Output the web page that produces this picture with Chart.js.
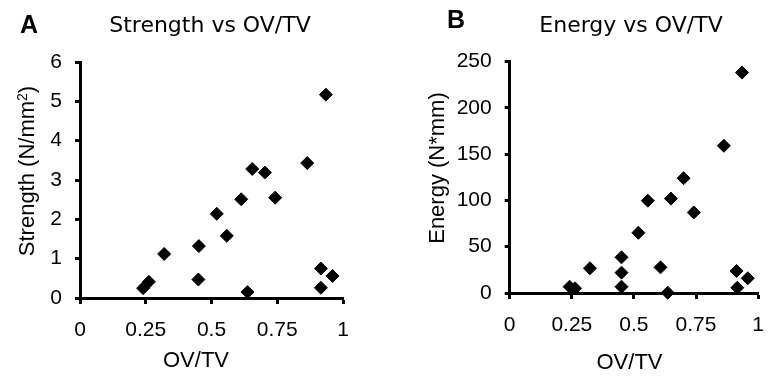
<!DOCTYPE html>
<html>
<head>
<meta charset="utf-8">
<script src="https://cdn.jsdelivr.net/npm/chart.js@4.4.1/dist/chart.umd.min.js"></script>
<style>
  html, body { margin:0; padding:0; background:#fff; }
  #wrap { position:relative; width:778px; height:380px; overflow:hidden; }
  .box { position:absolute; top:0; width:389px; height:380px; }
  #boxA { left:0; }
  #boxB { left:389px; }
  .txt { position:absolute; color:#000; white-space:nowrap; }
  .letter { font: bold 25px/25px "Liberation Sans", Arial, sans-serif; }
  .ttl { font: 22px/22px "DejaVu Sans", Verdana, sans-serif; width:300px; text-align:center; }
  .axt { font: 22px/22px "Liberation Sans", Arial, sans-serif; width:300px; height:22px; text-align:center; }
  .rot { transform: rotate(-90deg); transform-origin: 50% 50%; }
  sup { font-size: 14px; line-height: 0; vertical-align: 7px; }
</style>
</head>
<body>
<div id="wrap">
  <div class="box" id="boxA"><canvas id="chartA" width="389" height="380"></canvas></div>
  <div class="box" id="boxB"><canvas id="chartB" width="389" height="380"></canvas></div>
  <div class="txt letter" style="left:20px;top:11.8px">A</div>
  <div class="txt ttl" style="left:60px;top:14.4px">Strength vs OV/TV</div>
  <div class="txt axt" style="left:46px;top:349px">OV/TV</div>
  <div class="txt axt rot" style="left:-123px;top:160px">Strength (N/mm<sup>2</sup>)</div>
  <div class="txt letter" style="left:447px;top:6.8px">B</div>
  <div class="txt ttl" style="left:481px;top:14.4px">Energy vs OV/TV</div>
  <div class="txt axt" style="left:479.5px;top:351px">OV/TV</div>
  <div class="txt axt rot" style="left:287px;top:157px">Energy (N*mm)</div>
</div>
<script>
const ovtvA    = [0.24, 0.262, 0.32, 0.452, 0.45, 0.52, 0.558, 0.613, 0.742, 0.637, 0.916, 0.916, 0.96, 0.655, 0.703, 0.864, 0.935];
const strength = [0.25, 0.41, 1.12, 1.32, 0.47, 2.14, 1.58, 2.51, 2.55, 0.15, 0.75, 0.26, 0.56, 3.28, 3.19, 3.43, 5.17];

const ovtvB  = [0.241, 0.263, 0.323, 0.45, 0.45, 0.45, 0.518, 0.556, 0.649, 0.607, 0.636, 0.741, 0.913, 0.916, 0.958, 0.70, 0.862, 0.935];
const energy = [6.8, 5, 26.7, 38.5, 22, 6.8, 65, 99.7, 102, 27.7, 0.3, 87, 23.8, 5.7, 15.9, 124, 159, 238];

const xTicks  = [0, 0.25, 0.5, 0.75, 1];
const yTicksA = [0, 1, 2, 3, 4, 5, 6];
const yTicksB = [0, 50, 100, 150, 200, 250];

const TICK_FONT = { family: '"Liberation Sans", Arial, sans-serif', size: 21 };
function pts(xs, ys) { return xs.map((x, i) => ({ x: x, y: ys[i] })); }

function makeChart(id, data, yTicks, yMax, geom) {
  return new Chart(document.getElementById(id), {
    type: 'scatter',
    data: {
      datasets: [{
        data: data,
        pointStyle: 'rectRot',
        pointRadius: 6.5,
        pointHoverRadius: 6.5,
        borderWidth: 1,
        backgroundColor: '#000',
        borderColor: '#000',
        clip: false
      }]
    },
    options: {
      responsive: false,
      animation: false,
      events: [],
      layout: { padding: { left: 0, right: geom.padRight, top: geom.padTop, bottom: 0 } },
      plugins: { legend: { display: false }, tooltip: { enabled: false }, title: { display: false } },
      scales: {
        x: {
          type: 'linear', min: 0, max: 1,
          afterBuildTicks: s => { s.ticks = xTicks.map(v => ({ value: v })); },
          afterFit: s => { s.height = geom.xHeight; },
          ticks: { font: TICK_FONT, color: '#000', padding: 14, maxRotation: 0, callback: v => String(v) },
          grid: { drawOnChartArea: false, drawTicks: true, tickLength: 6, tickWidth: 3, tickColor: '#000', color: '#000' },
          border: { display: true, color: '#000', width: 3 }
        },
        y: {
          type: 'linear', min: 0, max: yMax,
          afterBuildTicks: s => { s.ticks = yTicks.map(v => ({ value: v })); },
          afterFit: s => { s.width = geom.yWidth; },
          ticks: { font: TICK_FONT, color: '#000', padding: 13, callback: v => String(v) },
          grid: { drawOnChartArea: false, drawTicks: true, tickLength: 5, tickWidth: 3, tickColor: '#000', color: '#000' },
          border: { display: true, color: '#000', width: 3 }
        }
      }
    }
  });
}

const chartA = makeChart('chartA', pts(ovtvA, strength), yTicksA, 6, { padRight: 46, padTop: 62, xHeight: 82, yWidth: 80 });
const chartB = makeChart('chartB', pts(ovtvB, energy), yTicksB, 250, { padRight: 7, padTop: 61.5, xHeight: 87, yWidth: 120.7 });
</script>
</body>
</html>
